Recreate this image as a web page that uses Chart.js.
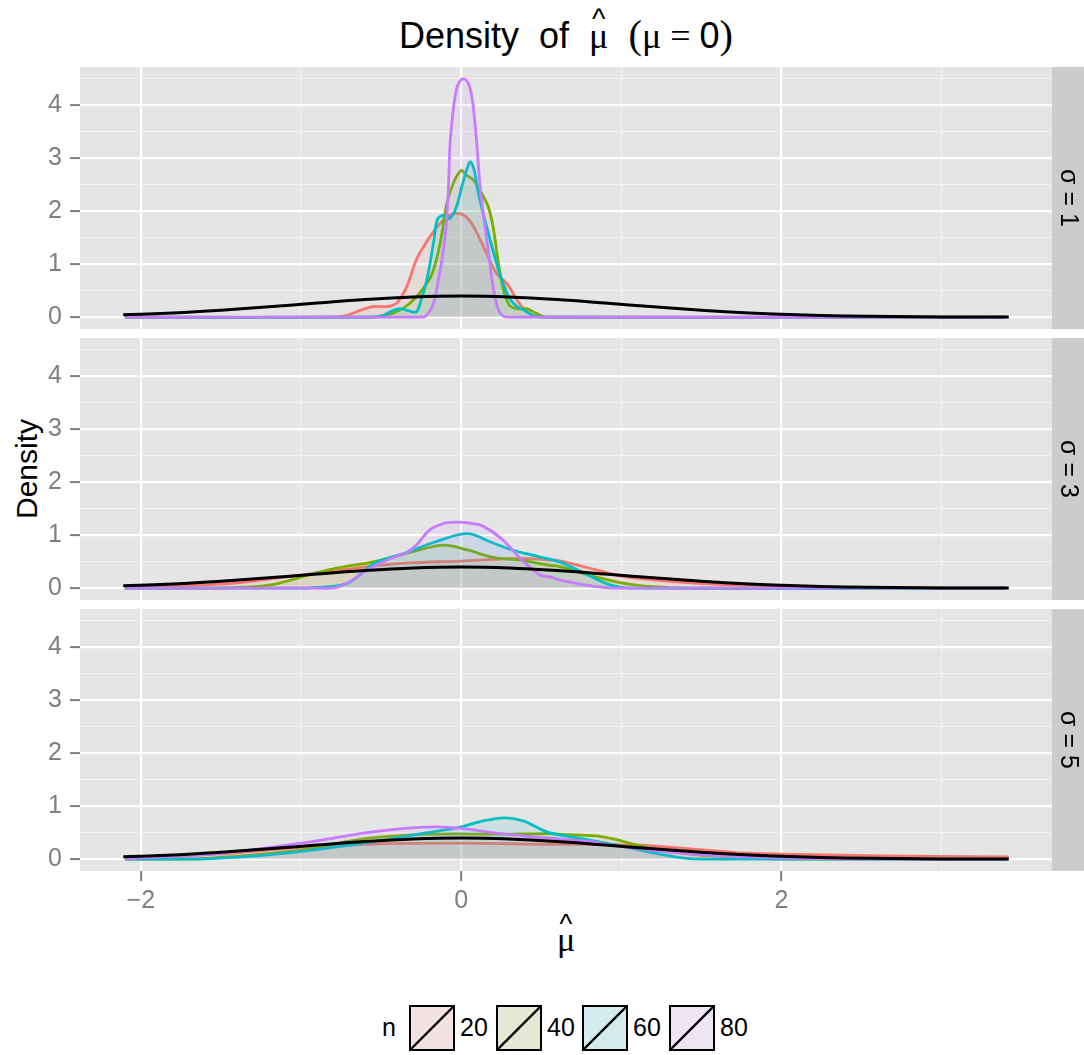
<!DOCTYPE html>
<html><head><meta charset="utf-8">
<script src="https://cdn.jsdelivr.net/npm/chart.js@4.4.1/dist/chart.umd.min.js"></script>
<style>
body{margin:0;background:#fff;}
#wrap{position:relative;width:1084px;height:1055px;overflow:hidden;font-family:"Liberation Sans",Arial,sans-serif;color:#000;}
canvas{position:absolute;left:0;}
.serif{font-family:"Liberation Serif","DejaVu Serif",serif;}
.big{font-size:1.12em;}
.hat{position:relative;display:inline-block;}
.hat .c{position:absolute;left:50%;transform:translateX(-50%);font-family:"Liberation Sans",sans-serif;}
#title{position:absolute;left:80px;width:972px;top:12px;text-align:center;font-size:36px;line-height:46px;white-space:pre;}
#title .hat .c{top:-0.6em;font-size:0.8em;}
#ytitle{position:absolute;left:27px;top:469px;transform:translate(-50%,-50%) rotate(-90deg);font-size:30px;white-space:nowrap;}
#xtitle{position:absolute;left:566px;top:917px;transform:translateX(-50%);font-size:34px;line-height:44px;}
#xtitle .hat .c{top:-0.58em;font-size:0.8em;}
.lg{position:absolute;font-size:25px;line-height:30px;top:1012px;}
.key{position:absolute;top:1005px;}
</style></head>
<body><div id="wrap">
<div id="title">Density  of  <span class="serif hat">μ<span class="c">^</span></span>  <span class="serif"><span class="big">(</span>μ = </span>0<span class="serif big">)</span></div>
<div id="ytitle">Density</div>
<div id="xtitle"><span class="serif hat">μ<span class="c">^</span></span></div>
<canvas id="c1" width="1084" height="310" style="top:43px;width:1084px;height:310px"></canvas>
<canvas id="c2" width="1084" height="310" style="top:314px;width:1084px;height:310px"></canvas>
<canvas id="c3" width="1084" height="342" style="top:585px;width:1084px;height:342px"></canvas>
<div id="legend"></div>
</div>
<script>
// ---------- axes ----------
const X_MIN = -2.38, X_MAX = 3.69;
const Y_MIN = -0.225, Y_MAX = 4.725;
const xMajorTicks = [-2, 0, 2];
const xMajorLabels = ['−2', '0', '2'];
const xMinorTicks = [-1, 1, 3];
const yMajorTicks = [0, 1, 2, 3, 4];
const yMajorLabels = ['0', '1', '2', '3', '4'];
const yMinorTicks = [0.5, 1.5, 2.5, 3.5, 4.5];
const stripLabels = ['σ = 1', 'σ = 3', 'σ = 5'];
const seriesNames = ['20', '40', '60', '80'];
const seriesColors = ['#F8766D', '#7CAE00', '#00BFC4', '#C77CFF'];
const legendTitle = 'n';

// ---------- reference normal curve (black) ----------
const normX = [-2.11,-1.8,-1.5,-1.2,-0.9,-0.6,-0.3,0,0.3,0.6,0.9,1.2,1.5,1.8,2.1,2.4,2.7,3.0,3.42];
const normY = [0.043,0.079,0.13,0.194,0.266,0.333,0.381,0.399,0.381,0.333,0.266,0.194,0.13,0.079,0.044,0.022,0.01,0.004,0.001];

// ---------- panel 1 : sigma = 1 ----------
const s1x20 = [-2.1,-0.85,-0.72,-0.63,-0.55,-0.46,-0.4,-0.34,-0.28,-0.21,-0.15,-0.09,-0.03,0.03,0.08,0.16,0.22,0.29,0.35,0.41,0.48,0.6,3.4];
const s1y20 = [0,0,0.03,0.13,0.2,0.2,0.27,0.57,1.08,1.45,1.7,1.89,1.96,1.9,1.7,1.2,0.83,0.62,0.32,0.1,0.01,0,0];
const s1x40 = [-2.1,-0.55,-0.48,-0.42,-0.37,-0.32,-0.26,-0.19,-0.15,-0.12,-0.09,-0.05,0,0.035,0.08,0.13,0.17,0.2,0.23,0.26,0.3,0.35,0.41,0.47,0.53,3.4];
const s1y40 = [0,0,0.03,0.08,0.15,0.26,0.45,0.76,1.14,1.58,2.14,2.52,2.77,2.68,2.58,2.33,2.08,1.7,1.08,0.57,0.23,0.16,0.16,0.07,0,0];
const s1x60 = [-2.1,-0.55,-0.48,-0.43,-0.38,-0.33,-0.28,-0.25,-0.21,-0.17,-0.15,-0.12,-0.09,-0.07,-0.03,0.015,0.056,0.08,0.1,0.13,0.16,0.2,0.24,0.28,0.31,0.35,0.39,0.45,0.5,3.4];
const s1y60 = [0,0,0.04,0.12,0.16,0.12,0.1,0.32,0.76,1.45,1.83,1.92,1.89,1.86,2.08,2.58,2.93,2.8,2.46,2.05,1.7,1.25,0.83,0.5,0.32,0.2,0.14,0.03,0,0];
const s1x80 = [-2.1,-0.25,-0.225,-0.18,-0.15,-0.12,-0.094,-0.079,-0.069,-0.052,-0.038,-0.017,0.015,0.046,0.067,0.081,0.098,0.119,0.15,0.177,0.2,0.23,0.26,0.29,3.4];
const s1y80 = [0,0,0.01,0.2,0.57,1.08,1.7,2.46,3.28,3.84,4.16,4.41,4.5,4.41,4.16,3.84,3.28,2.46,1.7,1.08,0.57,0.16,0.02,0,0];

// ---------- panel 2 : sigma = 3 ----------
const s2x20 = [-2.1,-1.8,-1.43,-1.07,-0.71,-0.35,0,0.37,0.56,0.61,0.85,0.97,1.09,1.39,1.8,2.22,2.6,3.4];
const s2y20 = [0.01,0.04,0.09,0.22,0.36,0.47,0.51,0.56,0.53,0.52,0.34,0.245,0.19,0.11,0.05,0.02,0.005,0];
const s2x40 = [-2.1,-1.6,-1.42,-1.19,-0.95,-0.78,-0.54,-0.3,-0.11,0.04,0.2,0.37,0.556,0.61,0.87,1.08,1.29,1.5,3.4];
const s2y40 = [0,0,0.01,0.06,0.25,0.375,0.5,0.69,0.81,0.72,0.58,0.53,0.43,0.41,0.19,0.06,0.01,0,0];
const s2x60 = [-2.1,-1.05,-0.92,-0.71,-0.54,-0.35,-0.16,0.04,0.18,0.32,0.49,0.61,0.77,0.93,1.05,3.4];
const s2y60 = [0,0,0.01,0.09,0.47,0.66,0.875,1.03,0.875,0.72,0.59,0.5,0.28,0.06,0,0];
const s2x80 = [-2.1,-0.9,-0.78,-0.68,-0.59,-0.44,-0.35,-0.28,-0.2,-0.11,-0.03,0.05,0.13,0.25,0.37,0.49,0.556,0.61,0.77,0.9,1.0,3.4];
const s2y80 = [0,0,0.01,0.15,0.34,0.56,0.66,0.81,1.09,1.22,1.245,1.23,1.18,0.94,0.56,0.25,0.21,0.16,0.06,0.01,0,0];

// ---------- panel 3 : sigma = 5 ----------
const s3x20 = [-2.1,-1.5,-1.0,-0.59,0,0.53,1.08,1.4,1.65,1.8,2.11,2.64,3.0,3.42];
const s3y20 = [0.02,0.1,0.22,0.28,0.3,0.28,0.27,0.2,0.14,0.11,0.09,0.06,0.05,0.04];
const s3x40 = [-2.1,-1.8,-1.56,-1.0,-0.59,-0.17,0.25,0.556,0.67,0.87,0.95,1.08,1.23,1.39,1.51,1.7,1.9,2.2,3.4];
const s3y40 = [0,0,0.02,0.17,0.39,0.47,0.47,0.48,0.46,0.43,0.38,0.28,0.17,0.11,0.07,0.04,0.01,0,0];
const s3x60 = [-2.1,-1.8,-1.56,-1.14,-0.73,-0.31,0,0.12,0.27,0.39,0.53,0.67,0.95,1.23,1.39,1.5,3.4];
const s3y60 = [0,0,0.01,0.1,0.25,0.45,0.61,0.71,0.78,0.72,0.52,0.43,0.28,0.1,0.02,0,0];
const s3x80 = [-2.1,-1.5,-1.0,-0.59,-0.31,-0.14,0,0.25,0.53,0.81,0.97,1.39,1.8,2.2,2.6,3.4];
const s3y80 = [0.01,0.11,0.3,0.5,0.59,0.61,0.58,0.48,0.4,0.33,0.25,0.11,0.04,0.01,0,0];

const panelX = [[s1x20,s1x40,s1x60,s1x80],[s2x20,s2x40,s2x60,s2x80],[s3x20,s3x40,s3x60,s3x80]];
const panelY = [[s1y20,s1y40,s1y60,s1y80],[s2y20,s2y40,s2y60,s2y80],[s3y20,s3y40,s3y60,s3y80]];

// ---------- helpers ----------
function rgba(hex, a){
  const n = parseInt(hex.slice(1),16);
  return 'rgba(' + ((n>>16)&255) + ',' + ((n>>8)&255) + ',' + (n&255) + ',' + a + ')';
}
function pts(xs, ys){ return xs.map((x,i)=>({x:x, y:ys[i]})); }
const isMajorX = v => xMajorTicks.some(t => Math.abs(t-v) < 1e-9);
const isMajorY = v => yMajorTicks.some(t => Math.abs(t-v) < 1e-9);
const TICK_GREY = '#7f7f7f';

const panelPlugin = {
  id: 'panel',
  beforeDraw(chart){
    const a = chart.chartArea, ctx = chart.ctx;
    ctx.save();
    ctx.fillStyle = '#e5e5e5';
    ctx.fillRect(a.left, a.top, a.right-a.left, a.bottom-a.top);
    ctx.restore();
  },
  afterDraw(chart){
    const a = chart.chartArea, ctx = chart.ctx;
    const label = chart.options.plugins.panel.label;
    ctx.save();
    ctx.fillStyle = '#cccccc';
    ctx.fillRect(a.right, a.top, 32, a.bottom-a.top);
    ctx.translate(a.right + 16, (a.top + a.bottom)/2);
    ctx.rotate(Math.PI/2);
    ctx.fillStyle = '#000';
    ctx.font = '25px "Liberation Sans", Arial, sans-serif';
    ctx.textAlign = 'center';
    ctx.textBaseline = 'middle';
    ctx.fillText(label, 0, 0);
    ctx.restore();
  }
};

function makeChart(id, p, showX){
  const datasets = [];
  for (let k=0;k<4;k++){
    datasets.push({
      label: seriesNames[k],
      data: pts(panelX[p][k], panelY[p][k]),
      borderColor: seriesColors[k],
      backgroundColor: rgba(seriesColors[k], 0.1),
      fill: 'origin',
      borderWidth: 2.8,
      pointRadius: 0,
      tension: 0.35,
      order: 4-k
    });
  }
  datasets.push({
    label: 'normal',
    data: pts(normX, normY),
    borderColor: '#000',
    fill: false,
    borderWidth: 3,
    pointRadius: 0,
    tension: 0.35,
    order: 0
  });
  return new Chart(document.getElementById(id), {
    type: 'line',
    data: { datasets: datasets },
    plugins: [panelPlugin],
    options: {
      responsive: false,
      animation: false,
      events: [],
      layout: { padding: { top: 24, bottom: showX ? 0 : 24, left: 0, right: 32 } },
      plugins: { legend: {display:false}, tooltip: {enabled:false}, panel: { label: stripLabels[p] } },
      scales: {
        x: {
          type: 'linear', min: X_MIN, max: X_MAX,
          afterBuildTicks: s => { s.ticks = xMajorTicks.concat(xMinorTicks).sort((a,b)=>a-b).map(v=>({value:v})); },
          afterFit: s => { s.height = showX ? 56 : 0; },
          ticks: {
            display: showX, autoSkip: false, maxRotation: 0, padding: 5,
            color: TICK_GREY, font: { family: '"Liberation Sans", Arial, sans-serif', size: 25 },
            callback: v => { const i = xMajorTicks.findIndex(t => Math.abs(t-v)<1e-9); return i>=0 ? xMajorLabels[i] : ''; }
          },
          grid: {
            color: c => isMajorX(c.tick.value) ? '#ffffff' : '#f2f2f2',
            lineWidth: c => isMajorX(c.tick.value) ? 2.2 : 1.1,
            drawTicks: showX, tickLength: 10, tickWidth: 2,
            tickColor: c => isMajorX(c.tick.value) ? TICK_GREY : 'rgba(0,0,0,0)'
          },
          border: { display: false }
        },
        y: {
          type: 'linear', min: Y_MIN, max: Y_MAX,
          afterBuildTicks: s => { s.ticks = yMajorTicks.concat(yMinorTicks).sort((a,b)=>a-b).map(v=>({value:v})); },
          afterFit: s => { s.width = 80; },
          ticks: {
            autoSkip: false, padding: 8,
            color: TICK_GREY, font: { family: '"Liberation Sans", Arial, sans-serif', size: 25 },
            callback: v => { const i = yMajorTicks.findIndex(t => Math.abs(t-v)<1e-9); return i>=0 ? yMajorLabels[i] : ''; }
          },
          grid: {
            color: c => isMajorY(c.tick.value) ? '#ffffff' : '#f2f2f2',
            lineWidth: c => isMajorY(c.tick.value) ? 2.2 : 1.1,
            drawTicks: true, tickLength: 10, tickWidth: 2,
            tickColor: c => isMajorY(c.tick.value) ? TICK_GREY : 'rgba(0,0,0,0)'
          },
          border: { display: false }
        }
      }
    }
  });
}
makeChart('c1', 0, false);
makeChart('c2', 1, false);
makeChart('c3', 2, true);

// ---------- legend ----------
(function(){
  const wrap = document.getElementById('wrap');
  const keyLeft = [409, 496, 582, 669];
  const t = document.createElement('div');
  t.className = 'lg'; t.style.left = '382px'; t.textContent = legendTitle;
  wrap.appendChild(t);
  for (let k=0;k<4;k++){
    const NS = 'http://www.w3.org/2000/svg';
    const svg = document.createElementNS(NS, 'svg');
    svg.setAttribute('width', 46); svg.setAttribute('height', 46);
    svg.setAttribute('class', 'key');
    svg.style.left = keyLeft[k] + 'px';
    svg.innerHTML = '<rect x="1" y="1" width="44" height="44" fill="#f2f2f2"/>' +
      '<rect x="1" y="1" width="44" height="44" fill="' + rgba(seriesColors[k], 0.12) + '" stroke="#000" stroke-width="2"/>' +
      '<line x1="1" y1="45" x2="45" y2="1" stroke="#000" stroke-width="2.4"/>';
    wrap.appendChild(svg);
    const l = document.createElement('div');
    l.className = 'lg'; l.style.left = (keyLeft[k] + 51) + 'px'; l.textContent = seriesNames[k];
    wrap.appendChild(l);
  }
})();
</script>
</body></html>
